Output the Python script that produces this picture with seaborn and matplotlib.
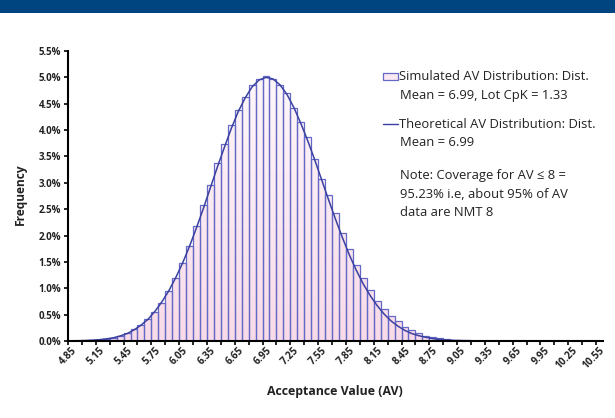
import numpy as np
import pandas as pd
import matplotlib
matplotlib.use("Agg")
import matplotlib.pyplot as plt
import seaborn as sns
from matplotlib.patches import Rectangle
from matplotlib.lines import Line2D
from matplotlib.colors import LinearSegmentedColormap

sns.set_theme(style="white")
plt.rcParams['font.family'] = ['Open Sans', 'DejaVu Sans']

# ---- data ----
# category values of AV (bins of 0.075 from 4.85)
categories = [f"{v:.3f}" for v in np.round(4.85 + 0.075 * np.arange(77), 3)]

# simulated bar heights (%)
simulated = [0.003, 0.005, 0.008, 0.012, 0.02, 0.035, 0.06, 0.10, 0.16, 0.22,
             0.30, 0.41, 0.55, 0.73, 0.94, 1.19, 1.48, 1.81, 2.19, 2.57,
             2.96, 3.37, 3.74, 4.10, 4.38, 4.62, 4.86, 4.97, 5.02, 4.97,
             4.86, 4.71, 4.42, 4.16, 3.87, 3.46, 3.08, 2.77, 2.43, 2.05,
             1.75, 1.44, 1.19, 0.97, 0.76, 0.61, 0.48, 0.37, 0.27, 0.21,
             0.15, 0.10, 0.07, 0.05, 0.035, 0.022, 0.015, 0.01, 0.006, 0.004,
             0.003, 0.002, 0.001, 0.001, 0.001, 0.001, 0.001, 0.0, 0.0, 0.0,
             0.0, 0.0, 0.0, 0.0, 0.0, 0.0, 0.0]

# theoretical curve (%), one point per category, categories 0..68
theoretical = [0.004, 0.006, 0.010, 0.016, 0.025, 0.04, 0.06, 0.095, 0.14, 0.21,
               0.30, 0.41, 0.56, 0.74, 0.95, 1.20, 1.48, 1.80, 2.15, 2.52,
               2.91, 3.30, 3.67, 4.03, 4.35, 4.61, 4.82, 4.95, 5.00, 4.97,
               4.86, 4.68, 4.43, 4.13, 3.80, 3.44, 3.06, 2.68, 2.31, 1.96,
               1.63, 1.34, 1.08, 0.86, 0.67, 0.51, 0.38, 0.28, 0.20, 0.14,
               0.10, 0.07, 0.045, 0.03, 0.02, 0.012, 0.008, 0.005, 0.003, 0.002,
               0.001, 0.001, 0.001, 0.001, 0.001, 0.001, 0.001, 0.001, 0.001]

tick_labels = ["4.85", "5.15", "5.45", "5.75", "6.05", "6.35", "6.65", "6.95",
               "7.25", "7.55", "7.85", "8.15", "8.45", "8.75", "9.05", "9.35",
               "9.65", "9.95", "10.25", "10.55"]

y_ticks = [0.0, 0.5, 1.0, 1.5, 2.0, 2.5, 3.0, 3.5, 4.0, 4.5, 5.0, 5.5]

bars_df = pd.DataFrame({"AV": categories, "freq": simulated})
line_df = pd.DataFrame({"pos": np.arange(len(theoretical)), "freq": theoretical})

EDGE = "#6468c6"
LINE = "#3a40a0"
PINK = "#f8dbe8"

# ---- figure ----
W, H = 615, 418
fig = plt.figure(figsize=(W / 100, H / 100), dpi=100)
fig.patch.set_facecolor("white")

# top banner
fig.patches.append(Rectangle((0, 1 - 12.5 / H), 1, 12.5 / H, transform=fig.transFigure,
                             facecolor="#004580", edgecolor="none", zorder=0))

ax = fig.add_axes([68 / W, 1 - 341 / H, (603 - 68) / W, (341 - 51) / H])

sns.barplot(data=bars_df, x="AV", y="freq", order=categories, ax=ax,
            color=PINK, saturation=1, width=1.0,
            edgecolor=EDGE, linewidth=0.9, errorbar=None, zorder=2)

ax.set_xlim(-0.5, len(categories) - 0.5)
ax.set_ylim(0, 5.5)

# vertical gradient fill inside each bar (white at top -> pink at bottom)
cmap = LinearSegmentedColormap.from_list("pinkgrad", ["#fefafc", PINK])
grad = np.linspace(0, 1, 256).reshape(-1, 1)
for p in list(ax.patches):
    x0 = p.get_x()
    x1 = x0 + p.get_width()
    h = p.get_height()
    if h <= 0:
        continue
    p.set_facecolor("none")
    im = ax.imshow(grad, extent=[x0, x1, 0, 5.5], origin="upper", aspect="auto",
                   cmap=cmap, zorder=1.5, interpolation="bilinear")
    im.set_clip_path(p)

sns.lineplot(data=line_df, x="pos", y="freq", ax=ax, color=LINE,
             linewidth=1.1, zorder=3)

ax.set_xlim(-0.5, len(categories) - 0.5)
ax.set_ylim(0, 5.5)

# axes styling
for s in ["top", "right"]:
    ax.spines[s].set_visible(False)
for s in ["left", "bottom"]:
    ax.spines[s].set_color("black")
    ax.spines[s].set_linewidth(1.5)
    ax.spines[s].set_zorder(5)

ax.set_yticks(y_ticks)
ax.set_yticklabels([f"{v:.1f}%" for v in y_ticks], fontsize=7.0, fontweight="bold",
                   color="#222222")
ax.tick_params(axis="y", direction="out", length=3, width=1.2, pad=2, color="black", left=True)

label_pos = np.arange(0, len(categories), 4)
ax.set_xticks(label_pos)
ax.set_xticklabels(tick_labels, rotation=45, ha="right", va="top",
                   rotation_mode="anchor", fontsize=7.2, fontweight="bold", color="#222222")
ax.tick_params(axis="x", which="major", length=0, pad=3)
ax.set_xticks(np.arange(-0.5, len(categories), 2), minor=True)
ax.tick_params(axis="x", which="minor", direction="out", length=3, width=1.2,
               color="black", bottom=True)

ax.set_xlabel("")
ax.set_ylabel("")
ax.grid(False)
ax.set_facecolor("white")

fig.text(20 / W, 1 - 194 / H, "Frequency", rotation=90, ha="center", va="center",
         fontsize=8.6, fontweight="bold", color="#222222")
fig.text(335 / W, 1 - 392 / H, "Acceptance Value (AV)", ha="center", va="center",
         fontsize=8.9, fontweight="bold", color="#222222")

# legend / notes
txt_kw = dict(fontsize=9.4, color="#222222", ha="left", va="center")
fig.patches.append(Rectangle((383 / W, 1 - 80 / H), 15 / W, 7 / H, transform=fig.transFigure,
                             facecolor="#fbe9f1", edgecolor=EDGE, linewidth=0.9))
fig.text(399 / W, 1 - 77 / H, "Simulated AV Distribution: Dist.", **txt_kw)
fig.text(400 / W, 1 - 96 / H, "Mean = 6.99, Lot CpK = 1.33", **txt_kw)

fig.lines.append(Line2D([383 / W, 398 / W], [1 - 124 / H, 1 - 124 / H], transform=fig.transFigure,
                        color=LINE, linewidth=1.0))
fig.text(399 / W, 1 - 124 / H, "Theoretical AV Distribution: Dist.", **txt_kw)
fig.text(400 / W, 1 - 143 / H, "Mean = 6.99", **txt_kw)

fig.text(400 / W, 1 - 176 / H, "Note: Coverage for AV \u2264 8 =", **txt_kw)
fig.text(400 / W, 1 - 194 / H, "95.23% i.e, about 95% of AV", **txt_kw)
fig.text(400 / W, 1 - 212 / H, "data are NMT 8", **txt_kw)

fig.savefig("out.png", dpi=100)
